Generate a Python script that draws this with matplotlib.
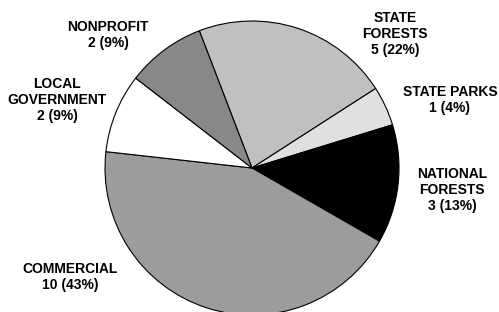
import matplotlib
matplotlib.use("Agg")
import matplotlib.pyplot as plt

# datos del grafico (sentido horario desde arriba)
categorias = ['STATE\nFORESTS', 'STATE PARKS', 'NATIONAL\nFORESTS',
              'COMMERCIAL', 'LOCAL\nGOVERNMENT', 'NONPROFIT']
valores = [5, 1, 3, 10, 2, 2]
colores = ['#c0c0c0', '#e0e0e0', '#000000', '#9c9c9c', '#ffffff', '#888888']

# posiciones de las etiquetas en pixeles (x, y desde arriba)
pos_etiquetas = [(395, 34), (450, 100), (452, 190), (70, 277), (57, 100), (108, 35)]

W, H = 499, 312
fig = plt.figure(figsize=(W / 100, H / 100), dpi=100)
ax = fig.add_axes([0, 0, 1, 1])

ax.pie(valores, colors=colores, startangle=111, counterclock=False,
       center=(252, H - 168), radius=147, frame=True,
       wedgeprops={'edgecolor': 'black', 'linewidth': 0.8})
ax.set_xlim(0, W)
ax.set_ylim(0, H)
ax.set_aspect('equal')
ax.axis('off')

total = sum(valores)
for cat, v, (x, y) in zip(categorias, valores, pos_etiquetas):
    pct = round(v / total * 100)
    ax.text(x, H - y, f'{cat}\n{v} ({pct}%)', ha='center', va='center',
            fontsize=10, fontweight='bold', family='Liberation Sans',
            linespacing=1.15)

fig.savefig('out.png', dpi=100)
